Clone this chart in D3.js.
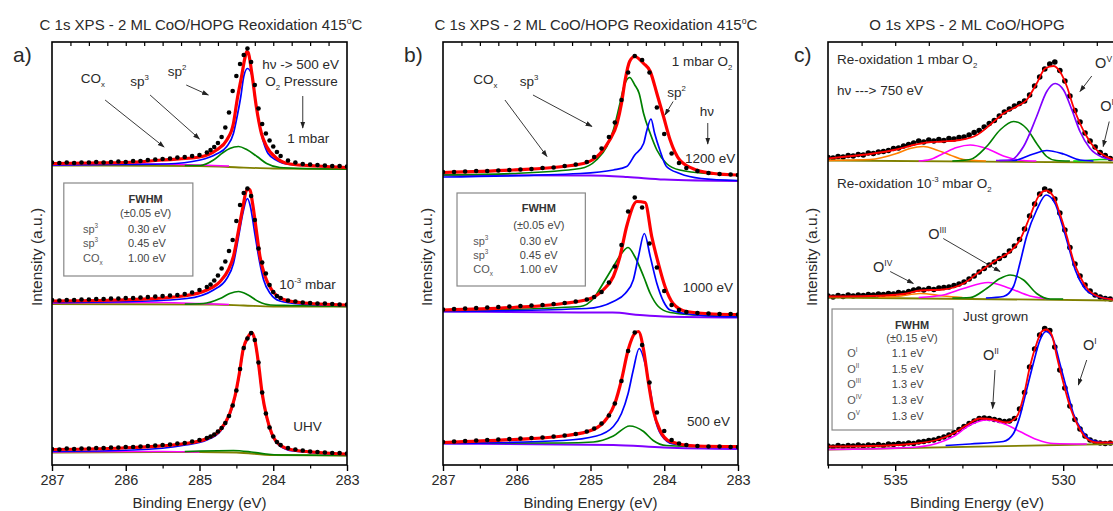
<!DOCTYPE html>
<html><head><meta charset="utf-8">
<script src="https://cdn.jsdelivr.net/npm/d3@7"></script>
<style>
body{margin:0;background:#fff;}
svg{display:block;font-family:"Liberation Sans",Arial,sans-serif;}
</style></head><body>
<svg id="chart" width="1113" height="511"></svg>
<script>
// ---------------- DATA (energies in eV, intensities in stacked a.u.) ----------------
// Panel a: C 1s, stacked spectra [1 mbar, 1e-3 mbar, UHV]
const aEnergy = [287.0,286.9,286.8,286.7,286.6,286.5,286.4,286.3,286.2,286.1,286.0,285.9,285.8,285.7,285.6,285.5,285.4,285.3,285.2,285.1,285.0,284.9,
 284.85,284.8,284.75,284.7,284.65,284.6,284.55,284.5,284.45,284.4,284.35,284.3,284.25,284.2,284.15,284.1,284.05,284.0,283.95,
 283.9,283.8,283.7,283.6,283.5,283.4,283.3,283.2,283.1,283.0];
const aDataTop = [60.5,60.4,60.5,60.4,60.5,60.5,60.6,60.5,60.6,60.7,60.6,60.8,60.8,61.0,61.1,61.2,61.3,61.5,61.6,61.8,62.0,62.5,
 63.0,63.6,64.4,65.6,67.5,70.5,74.8,77.8,80.2,82.0,83.3,80.6,76.0,71.3,68.2,66.3,64.9,63.7,62.6,
 61.8,60.9,60.5,60.2,60.1,60.0,59.9,59.8,59.8,59.7];
const aDataMid = [33.0,32.9,33.0,33.0,33.1,33.1,33.2,33.2,33.3,33.3,33.4,33.4,33.5,33.6,33.7,33.8,33.9,34.0,34.2,34.5,35.0,35.6,
 36.1,36.9,37.9,39.3,40.7,42.8,45.0,48.8,52.0,54.4,55.3,53.8,49.0,43.3,40.5,38.3,36.0,34.6,33.8,
 33.4,32.9,32.7,32.5,32.4,32.3,32.3,32.2,32.1,32.1];
const aDataBot = [3.2,3.1,3.3,3.2,3.3,3.3,3.4,3.4,3.5,3.5,3.6,3.6,3.7,3.8,3.9,4.0,4.1,4.3,4.4,4.7,5.0,5.4,
 5.7,6.1,6.7,7.4,8.4,9.8,11.9,14.9,19.2,23.4,25.3,26.4,25.0,20.5,14.5,10.3,7.5,5.7,4.6,
 4.0,3.4,3.1,2.9,2.7,2.6,2.5,2.4,2.4,2.3];
const aFit = [
 [[287,60.3],[286.5,60.4],[286,60.5],[285.5,61.0],[285,61.6],[284.77,63.0],[284.63,65.0],[284.54,68.3],[284.49,73.0],[284.43,77.7],[284.38,81.7],[284.36,82.7],[284.34,82.5],[284.29,78.3],[284.23,71.7],[284.16,66.3],[284.09,63.7],[283.95,61.3],[283.77,60.2],[283.41,59.8],[283,59.5]],
 [[287,32.8],[285.9,33.1],[285.22,33.8],[284.9,35.0],[284.72,36.7],[284.61,39.0],[284.54,41.7],[284.47,47.0],[284.41,51.7],[284.36,55.0],[284.32,55.1],[284.28,52.3],[284.23,47.0],[284.18,41.7],[284.11,37.7],[284.02,35.0],[283.86,33.1],[283.64,32.5],[283,32.0]],
 [[287,3.1],[285.9,3.5],[285.19,4.3],[284.9,5.3],[284.72,7.0],[284.59,10.3],[284.52,13.7],[284.46,18.3],[284.41,23.0],[284.34,25.7],[284.29,26.5],[284.25,25.0],[284.2,20.3],[284.15,14.3],[284.09,9.7],[284.02,6.3],[283.91,4.0],[283.73,3.0],[283,2.2]]
];
const aSp2 = [
 [[287,60.0],[286,60.1],[285.45,60.2],[284.99,61.0],[284.77,62.2],[284.63,63.7],[284.54,66.3],[284.49,69.7],[284.44,73.7],[284.4,77.7],[284.35,79.3],[284.29,78.0],[284.25,73.7],[284.2,69.0],[284.14,65.0],[284.07,62.3],[283.95,60.9],[283.77,60.1],[283,59.5]],
 [[287,32.5],[285.9,32.7],[285.17,33.3],[284.81,35.0],[284.63,37.3],[284.54,40.3],[284.47,45.7],[284.41,50.5],[284.35,53.3],[284.31,51.7],[284.25,46.3],[284.19,41.0],[284.13,37.0],[284.04,34.3],[283.91,32.8],[283.64,32.2],[283,31.9]],
 [[287,2.7],[285.9,3.0],[285.19,4.0],[284.9,5.0],[284.72,6.7],[284.59,10.0],[284.52,13.4],[284.46,18.0],[284.41,22.7],[284.34,25.4],[284.29,26.2],[284.25,24.8],[284.2,20.1],[284.15,14.1],[284.09,9.5],[284.02,6.1],[283.91,3.8],[283.73,2.8],[283,2.1]]
];
const aSp3 = [
 [[285.2,59.9],[284.99,59.9],[284.81,61.0],[284.68,62.5],[284.59,63.3],[284.47,63.7],[284.36,63.1],[284.22,61.7],[284.09,60.3],[283.91,59.5],[283.64,59.3],[283,59.2]],
 [[285.2,32.2],[284.95,32.3],[284.72,33.3],[284.59,34.3],[284.47,34.7],[284.34,34.0],[284.2,32.7],[284.04,32.0],[283.77,31.9],[283,31.7]],
 [[285.2,2.7],[284.99,2.8],[284.54,2.9],[284.3,2.6],[284.1,2.2],[283.9,2.0],[283,1.9]]
];
const aCOx = [
 [[287,60.0],[286.5,60.1],[286,60.2],[285.5,60.2],[285,60.0],[284.6,59.8]],
 [[287,32.4],[286,32.5],[285.5,32.5],[285,32.3],[284.6,32.1]],
 [[287,2.6],[286,2.7],[285.5,2.7],[285,2.6]]
];
const aBackground = [
 [[287,59.9],[285,59.8],[284.6,59.6],[284.0,59.3],[283,59.2]],
 [[287,32.2],[284.8,32.1],[284.4,31.9],[284.0,31.7],[283,31.7]],
 [[287,2.5],[285,2.6],[284.5,2.5],[284.0,2.0],[283,1.9]]
];

// Panel b: C 1s, stacked spectra [1200 eV, 1000 eV, 500 eV]
const bEnergy = [287.0,286.85,286.7,286.55,286.4,286.25,286.1,285.95,285.8,285.65,285.5,285.35,285.2,285.05,284.95,284.85,284.75,284.67,284.58,284.49,284.4,284.3,284.2,284.1,284.0,283.9,283.8,283.7,283.55,283.4,283.25,283.1,283.0];
const bDataTop = [58.6,58.6,58.7,58.8,58.8,58.9,59.0,59.1,59.2,59.4,59.5,59.8,60.1,60.6,61.6,63.3,65.6,68.5,73.0,78.5,81.8,81.0,78.5,71.5,66.2,62.3,60.4,59.4,58.8,58.4,58.2,58.1,58.0];
const bDataMid = [31.1,31.2,31.3,31.4,31.5,31.6,31.7,31.8,31.9,32.0,32.2,32.4,32.7,33.1,33.6,34.6,36.5,39.7,44.0,50.7,53.5,51.5,44.3,39.5,34.8,32.0,31.0,30.6,30.4,30.3,30.2,30.2,30.1];
const bDataBot = [4.6,4.7,4.8,4.9,5.0,5.1,5.2,5.3,5.4,5.5,5.7,5.9,6.2,6.7,7.3,8.3,9.9,12.3,16.8,22.8,26.5,24.0,16.5,10.5,6.8,5.0,4.3,4.0,3.8,3.7,3.7,3.6,3.6];
const bFit = [
 [[287,58.5],[286.05,59.0],[285.37,59.7],[285.05,60.5],[284.87,62.3],[284.74,65.0],[284.64,68.3],[284.58,72.3],[284.53,77.0],[284.47,80.7],[284.4,81.7],[284.28,80.3],[284.19,78.7],[284.1,74.3],[284.01,69.7],[283.92,65.0],[283.79,61.0],[283.56,59.0],[283.33,58.3],[283,58.0]],
 [[287,31.0],[286.05,31.5],[285.37,32.3],[285.0,33.3],[284.83,35.0],[284.69,37.7],[284.6,41.7],[284.51,47.7],[284.37,52.7],[284.26,52.5],[284.17,45.7],[284.08,40.3],[283.99,35.7],[283.88,32.3],[283.7,30.7],[283.33,30.2],[283,30.1]],
 [[287,4.5],[286.05,5.1],[285.37,5.8],[284.96,7.1],[284.78,9.3],[284.67,12.3],[284.58,17.0],[284.49,23.0],[284.4,26.3],[284.35,26.7],[284.28,23.0],[284.22,17.0],[284.15,11.0],[284.06,7.0],[283.92,4.7],[283.56,3.8],[283,3.7]]
];
const bSp2 = [
 [[287,57.6],[285.14,58.3],[284.69,59.0],[284.51,59.7],[284.4,62.0],[284.28,64.3],[284.24,66.7],[284.18,69.2],[284.13,66.3],[284.06,63.0],[283.97,59.7],[283.79,58.3],[283.5,57.3],[283,56.9]],
 [[287,30.7],[285.05,31.3],[284.69,32.7],[284.53,34.3],[284.42,37.0],[284.35,41.7],[284.27,46.3],[284.19,41.7],[284.1,36.3],[284.01,32.7],[283.92,31.0],[283.56,30.0],[283,29.6]],
 [[287,4.3],[285.37,4.9],[284.92,5.8],[284.69,7.7],[284.58,10.3],[284.49,14.3],[284.42,19.0],[284.34,23.3],[284.26,20.3],[284.19,15.0],[284.13,9.7],[284.04,6.0],[283.88,4.2],[283.33,3.7],[283,3.6]]
];
const bSp3 = [
 [[287,58.0],[286.05,58.3],[285.14,59.3],[284.92,61.0],[284.78,63.7],[284.69,67.0],[284.61,71.7],[284.54,76.0],[284.47,77.5],[284.4,76.0],[284.34,74.3],[284.28,70.3],[284.19,66.3],[284.1,63.0],[283.97,60.3],[283.79,59.0],[283.33,58.2],[283,57.9]],
 [[287,30.8],[285.14,31.7],[284.96,33.3],[284.83,36.3],[284.69,39.7],[284.58,42.3],[284.49,43.5],[284.4,41.7],[284.28,37.7],[284.19,34.3],[284.08,31.7],[283.92,30.5],[283.56,30.0],[283,29.7]],
 [[287,4.4],[285.37,4.4],[284.96,4.6],[284.69,5.8],[284.47,7.8],[284.28,6.7],[284.15,4.9],[283.97,3.9],[283.56,3.7],[283,3.6]]
];
const bBackground = [
 [[287,58.0],[285,57.9],[284.5,57.6],[284,57.1],[283,56.8]],
 [[287,30.7],[285.14,30.5],[284.7,30.5],[284.33,30.0],[284.01,29.7],[283,29.5]],
 [[287,4.3],[284.69,4.0],[284.01,3.5],[283,3.2]]
];

// Panel c: O 1s, stacked spectra [1 mbar, 1e-3 mbar, just grown]
const cEnergy = [537.00,536.85,536.70,536.55,536.40,536.25,536.10,535.95,535.80,535.65,535.50,535.35,535.20,535.05,534.90,534.75,534.60,534.45,534.30,534.15,
 534.00,533.85,533.70,533.55,533.40,533.25,533.10,532.95,532.80,532.65,532.50,532.35,532.20,532.05,531.90,531.75,531.60,531.45,531.30,531.15,
 531.00,530.85,530.70,530.55,530.40,530.25,530.10,529.95,529.80,529.65,529.50,529.35,529.20,529.05,528.90,528.75,528.60];
const cDataTop = [61.5,61.4,61.7,61.6,61.9,61.8,62.1,62.0,62.4,62.3,62.6,62.7,62.9,63.3,63.4,63.8,64.1,64.4,64.8,64.6,
 65.0,64.8,65.1,64.9,65.3,65.2,65.5,65.6,66.0,66.5,66.9,67.6,68.3,68.9,69.8,70.6,71.2,71.8,72.3,72.8,
 74.0,75.8,77.6,79.2,80.2,80.6,78.9,76.8,73.8,70.9,68.6,66.4,64.8,63.6,62.5,61.9,61.3];
const cDataMid = [33.8,33.6,33.9,33.7,34.0,33.8,34.0,33.9,34.1,34.0,34.2,34.1,34.3,34.2,34.5,34.4,34.7,35.0,35.2,35.0,
 35.3,35.1,35.4,35.5,35.6,35.9,36.2,36.6,37.2,37.8,38.6,39.3,40.0,40.6,41.3,41.9,42.8,43.8,45.1,47.2,
 49.8,52.2,54.2,55.2,54.8,53.2,50.4,47.0,43.5,40.2,37.8,36.0,34.8,34.0,33.6,33.3,33.2];
const cDataBot = [3.8,3.6,3.9,3.7,3.9,3.8,4.0,3.8,4.0,3.9,4.1,3.9,4.2,4.1,4.3,4.2,4.4,4.3,4.6,4.7,
 4.9,5.0,5.3,5.6,6.0,6.5,7.1,7.7,8.3,8.8,9.3,9.4,9.3,9.1,8.9,8.7,8.8,9.3,11.2,14.5,
 19.6,23.2,26.0,27.3,26.9,23.6,19.0,15.4,11.8,9.1,7.2,5.8,5.0,4.6,4.4,4.3,4.4];
const cFit = [
 [[537,61.3],[536.44,61.7],[535.75,62.2],[534.96,63.1],[534.46,64.0],[534.06,64.5],[533.57,64.7],[533.07,65.0],[532.57,66.0],[532.18,68.0],[531.78,70.3],[531.38,71.7],[531.09,73.0],[530.79,76.3],[530.54,79.3],[530.29,79.8],[530.1,78.7],[529.89,75.7],[529.7,71.7],[529.5,68.3],[529.3,65.7],[529.05,63.3],[528.81,62.0],[528.51,61.1]],
 [[537,33.7],[535.75,33.8],[534.76,34.2],[534.26,34.9],[533.57,35.1],[532.97,36.3],[532.48,38.7],[531.98,41.0],[531.58,42.7],[531.29,45.0],[530.99,49.7],[530.74,53.7],[530.51,54.9],[530.29,53.7],[530.1,50.3],[529.89,45.7],[529.7,41.0],[529.5,37.7],[529.25,35.0],[528.95,33.7],[528.51,33.1]],
 [[537,3.7],[535.75,3.8],[534.56,4.2],[533.77,5.0],[533.27,6.3],[532.87,8.0],[532.48,9.3],[532.08,9.1],[531.68,8.5],[531.38,9.7],[531.18,13.7],[530.99,19.7],[530.79,24.3],[530.64,26.7],[530.51,27.1],[530.34,26.0],[530.19,21.7],[529.99,16.3],[529.8,11.7],[529.55,7.7],[529.3,5.3],[529.0,4.5],[528.51,4.5]]
];
const cOrange = [
 [[537,60.9],[535.75,61.1],[534.96,62.3],[534.56,63.3],[534.16,63.7],[533.77,63.0],[533.37,62.0],[532.97,61.1],[532.3,60.8]],
 [[535.5,33.6],[534.96,33.7],[534.26,34.3],[533.57,33.8],[533.0,33.5]],
 null
];
const cMagenta = [
 [[534.3,60.8],[533.96,61.1],[533.57,62.3],[533.17,63.5],[532.77,64.0],[532.28,63.3],[531.78,61.8],[531.18,60.9],[530.8,60.8]],
 [[534.3,33.5],[533.57,34.0],[532.97,35.3],[532.23,36.5],[531.58,35.3],[530.99,33.8],[530.4,33.2]],
 [[537,3.1],[534.56,3.5],[533.77,4.3],[533.27,5.7],[532.77,8.0],[532.28,9.0],[531.78,8.3],[531.29,6.7],[530.79,5.1],[530.29,4.3],[529.3,4.2]]
];
const cGreen = [
 [[533.3,60.8],[532.77,61.1],[532.28,63.7],[531.88,67.0],[531.48,68.7],[531.09,67.3],[530.79,64.3],[530.49,61.7],[530.2,60.9],[529.8,60.8]],
 [[533.3,33.4],[532.77,33.5],[532.28,35.3],[531.88,37.3],[531.58,38.0],[531.18,37.0],[530.79,34.3],[530.4,33.2],[530.0,33.2]],
 null
];
const cPurple = [
 [[532.0,60.9],[531.58,61.0],[531.18,63.7],[530.79,69.7],[530.49,74.7],[530.24,76.3],[529.99,75.0],[529.74,71.0],[529.5,66.7],[529.2,63.3],[528.81,61.5],[528.5,61.0]],
 null, null
];
const cBlue = [
 [[531.9,60.9],[531.48,60.9],[530.89,62.2],[530.49,62.9],[529.99,62.2],[529.5,61.0],[529.1,60.8]],
 [[532.3,33.4],[531.78,33.7],[531.48,35.7],[531.29,40.3],[531.09,45.7],[530.79,51.0],[530.51,54.0],[530.24,52.3],[530.04,48.3],[529.84,43.7],[529.64,39.0],[529.4,35.7],[529.1,34.0],[528.51,33.1]],
 [[533.5,3.9],[532.77,4.2],[531.78,4.7],[531.48,6.3],[531.29,9.7],[531.09,15.0],[530.89,20.3],[530.69,25.0],[530.51,26.7],[530.29,25.0],[530.1,20.3],[529.89,15.0],[529.7,10.3],[529.45,7.0],[529.2,5.1],[528.8,4.5],[528.5,4.4]]
];
const cLime = [
 [[529.7,60.8],[529.3,60.9],[528.9,61.1],[528.5,61.1]],
 null, null
];
const cBackground = [
 [[537,60.9],[528.5,60.5]],
 [[537,33.5],[528.5,32.9]],
 [[537,3.1],[528.5,4.2]]
];

const cTicksMajor = [535, 530];
const cTicksMinor = [537, 536, 534, 533, 532, 531, 529];
const abTicksMajor = [287, 286, 285, 284, 283];
const abTicksMinor = [286.5, 285.5, 284.5, 283.5];
const abTicksTop = [286.75,286.5,286.25,286,285.75,285.5,285.25,285,284.75,284.5,284.25,284,283.75,283.5,283.25];
const cTicksTop = [536,535,534,533,532,531,530,529];

// ---------------- DRAWING ----------------
const svg = d3.select('#chart');
const defs = svg.append('defs');
defs.append('marker').attr('id','arr').attr('viewBox','0 0 10 10').attr('refX',9).attr('refY',5)
  .attr('markerWidth',7).attr('markerHeight',7).attr('markerUnits','userSpaceOnUse').attr('orient','auto')
  .append('path').attr('d','M0,1.5 L10,5 L0,8.5 Z').attr('fill','#222');

const TOP = 42, BOTTOM = 465;
const Y = d3.scaleLinear().domain([0, 84.6]).range([BOTTOM, TOP]);
const textColor = '#2a2a2a';

function rich(g, x, y, str, fs, opts) {
  opts = opts || {};
  const t = g.append('text').attr('x', x).attr('y', y).attr('font-size', fs)
    .attr('fill', opts.color || textColor).attr('text-anchor', opts.anchor || 'start');
  if (opts.weight) t.attr('font-weight', opts.weight);
  const parts = str.split(/(\^\{[^}]*\}|_\{[^}]*\})/).filter(s => s.length);
  let shift = 0;
  parts.forEach(p => {
    let type = 'n', s = p;
    if (p.startsWith('^{')) { type = 'sup'; s = p.slice(2, -1); }
    else if (p.startsWith('_{')) { type = 'sub'; s = p.slice(2, -1); }
    const target = type === 'sup' ? -0.42 * fs : type === 'sub' ? 0.28 * fs : 0;
    const ts = t.append('tspan').attr('dy', target - shift).text(s);
    if (type !== 'n') ts.attr('font-size', fs * 0.58);
    shift = target;
  });
  return t;
}

function arrow(g, x, p0, p1) {
  g.append('line').attr('x1', x(p0[0])).attr('y1', Y(p0[1])).attr('x2', x(p1[0])).attr('y2', Y(p1[1]))
    .attr('stroke', '#222').attr('stroke-width', 0.9).attr('marker-end', 'url(#arr)');
}

function panel(cfg) {
  const x = cfg.x;
  const [x0, x1] = x.range();
  const g = svg.append('g');
  defs.append('clipPath').attr('id', 'clip' + cfg.id).append('rect')
    .attr('x', x0).attr('y', TOP).attr('width', x1 - x0).attr('height', BOTTOM - TOP);
  const plot = g.append('g').attr('clip-path', `url(#clip${cfg.id})`);
  const line = d3.line().x(d => x(d[0])).y(d => Y(d[1])).curve(d3.curveMonotoneX);

  const drawCurves = () => cfg.curves.forEach(c => {
    c.data.forEach(s => {
      if (!s) return;
      plot.append('path').attr('d', line(s)).attr('fill', 'none')
        .attr('stroke', c.color).attr('stroke-width', c.width).attr('stroke-linejoin', 'round');
    });
  });
  const drawDots = () => cfg.dataSets.forEach(vals => {
    plot.append('g').selectAll('circle').data(vals.map((v, i) => [cfg.energy[i], v])).join('circle')
      .attr('cx', d => x(d[0])).attr('cy', d => Y(d[1])).attr('r', cfg.r).attr('fill', '#000');
  });
  if (cfg.dotsFirst) { drawDots(); drawCurves(); } else { drawCurves(); drawDots(); }

  // frame
  g.append('rect').attr('x', x0).attr('y', TOP).attr('width', x1 - x0).attr('height', BOTTOM - TOP)
    .attr('fill', 'none').attr('stroke', '#000').attr('stroke-width', 1.6);

  // bottom axis
  const ax = g.append('g').attr('transform', `translate(0,${BOTTOM})`)
    .call(d3.axisBottom(x).tickValues(cfg.major).tickSize(6).tickPadding(4).tickFormat(d3.format('d')));
  ax.select('.domain').remove();
  ax.selectAll('line').attr('stroke-width', 1.4);
  ax.selectAll('text').attr('font-size', 14.5).attr('fill', textColor).attr('font-family', '"Liberation Sans",Arial,sans-serif');
  const axm = g.append('g').attr('transform', `translate(0,${BOTTOM})`)
    .call(d3.axisBottom(x).tickValues(cfg.minor).tickSize(3.5).tickFormat(''));
  axm.select('.domain').remove();
  axm.selectAll('line').attr('stroke-width', 1.2);
  // top ticks (inward)
  const axt = g.append('g').attr('transform', `translate(0,${TOP})`)
    .call(d3.axisBottom(x).tickValues(cfg.top).tickSize(4).tickFormat(''));
  axt.select('.domain').remove();
  axt.selectAll('line').attr('stroke-width', 1.2);

  // labels
  g.append('text').attr('x', (x0 + Math.min(x1, cfg.labelRight || x1)) / 2).attr('y', 508).attr('text-anchor', 'middle')
    .attr('font-size', 15).attr('fill', textColor).text('Binding Energy (eV)');
  g.append('text').attr('transform', `translate(${cfg.ylabX},257) rotate(-90)`).attr('text-anchor', 'middle')
    .attr('font-size', 15.5).attr('fill', textColor).text('Intensity (a.u.)');
  g.append('text').attr('x', cfg.letterX).attr('y', 62).attr('font-size', 21).attr('fill', textColor).text(cfg.id + ')');
  rich(g, cfg.titleX, 30, cfg.title, 15, { anchor: 'middle' });
  return g;
}

// ---------- Panel a ----------
const xa = d3.scaleLinear().domain([287, 283]).range([52, 347]);
const ga = panel({
  id: 'a', x: xa, energy: aEnergy, dataSets: [aDataTop, aDataMid, aDataBot], r: 2.3,
  curves: [
    { data: aBackground, color: '#808000', width: 1.8 },
    { data: aCOx, color: '#ff00ff', width: 1.5 },
    { data: aSp3, color: '#008000', width: 1.7 },
    { data: aSp2, color: '#0000ff', width: 1.7 },
    { data: aFit, color: '#ff0000', width: 3.2 }
  ],
  major: abTicksMajor, minor: abTicksMinor, top: abTicksTop,
  ylabX: 42, letterX: 13, titleX: 201,
  title: 'C 1s XPS - 2 ML CoO/HOPG Reoxidation 415^{o}C'
});
rich(ga, xa(284.15), Y(79.2), 'hν -> 500 eV', 13.5);
rich(ga, xa(284.11), Y(75.8), 'O_{2} Pressure', 13.5);
arrow(ga, xa, [283.6, 73.8], [283.6, 67.4]);
rich(ga, xa(283.81), Y(64.4), '1 mbar', 13.5);
rich(ga, xa(285.43), Y(77.8), 'sp^{2}', 13.5);
arrow(ga, xa, [285.18, 76], [284.88, 74]);
rich(ga, xa(285.94), Y(75.8), 'sp^{3}', 13.5);
arrow(ga, xa, [285.67, 74], [285.0, 65.2]);
rich(ga, xa(286.61), Y(76.4), 'CO_{x}', 13.5);
arrow(ga, xa, [286.28, 73], [285.48, 63.6]);
rich(ga, xa(283.92), Y(35.2), '10^{-3} mbar', 13.5);
rich(ga, xa(283.73), Y(6.8), 'UHV', 13.5);

function fwhmBox(g, x, box, title, err, labels, values, rows, cfg) {
  g.append('rect').attr('x', x(box[0])).attr('y', Y(box[1])).attr('width', x(box[2]) - x(box[0]))
    .attr('height', Y(box[3]) - Y(box[1])).attr('fill', '#fff').attr('stroke', '#888').attr('stroke-width', 1.2);
  rich(g, x(cfg.cx), Y(cfg.t1), title, cfg.fs, { anchor: 'middle', weight: 'bold', color: '#333' });
  rich(g, x(cfg.cx), Y(cfg.t2), err, cfg.fs, { anchor: 'middle', color: '#444' });
  labels.forEach((l, i) => {
    rich(g, x(cfg.lx), Y(rows[i]), l, cfg.fs, { color: '#555' });
    rich(g, x(cfg.vx), Y(rows[i]), values[i], cfg.fs, { color: '#444' });
  });
}
fwhmBox(ga, xa, [286.84, 56.4, 285.09, 37.8], 'FWHM', '(±0.05 eV)',
  ['sp^{3}', 'sp^{3}', 'CO_{x}'], ['0.30 eV', '0.45 eV', '1.00 eV'], [46.4, 43.6, 40.6],
  { cx: 285.73, t1: 52.4, t2: 49.6, lx: 286.58, vx: 285.97, fs: 11 });

// ---------- Panel b ----------
const xb = d3.scaleLinear().domain([287, 283]).range([443, 738]);
const gb = panel({
  id: 'b', x: xb, energy: bEnergy, dataSets: [bDataTop, bDataMid, bDataBot], r: 2.3,
  curves: [
    { data: bBackground, color: '#8000ff', width: 2 },
    { data: bSp3, color: '#008000', width: 1.7 },
    { data: bSp2, color: '#0000ff', width: 1.7 },
    { data: bFit, color: '#ff0000', width: 3.2 }
  ],
  major: abTicksMajor, minor: abTicksMinor, top: abTicksTop,
  ylabX: 432, letterX: 404, titleX: 596,
  title: 'C 1s XPS - 2 ML CoO/HOPG Reoxidation 415^{o}C'
});
rich(gb, xb(283.9), Y(79.8), '1 mbar O_{2}', 13.5);
rich(gb, xb(283.96), Y(73.6), 'sp^{2}', 13.5);
arrow(gb, xb, [283.88, 72.7], [283.99, 70.0]);
rich(gb, xb(283.52), Y(69.8), 'hν', 13.5);
arrow(gb, xb, [283.41, 68.4], [283.41, 64.2]);
rich(gb, xb(283.72), Y(60.4), '1200 eV', 13.5);
rich(gb, xb(285.96), Y(75.8), 'sp^{3}', 13.5);
arrow(gb, xb, [285.78, 74], [284.98, 67.7]);
rich(gb, xb(286.59), Y(76.2), 'CO_{x}', 13.5);
arrow(gb, xb, [286.16, 73], [285.59, 61.7]);
rich(gb, xb(283.75), Y(34.6), '1000 eV', 13.5);
rich(gb, xb(283.69), Y(7.8), '500 eV', 13.5);
fwhmBox(gb, xb, [286.81, 54.4, 285.07, 35.8], 'FWHM', '(±0.05 eV)',
  ['sp^{3}', 'sp^{3}', 'CO_{x}'], ['0.30 eV', '0.45 eV', '1.00 eV'], [44.0, 41.2, 38.4],
  { cx: 285.7, t1: 50.6, t2: 47.2, lx: 286.59, vx: 285.96, fs: 11 });

// ---------- Panel c ----------
const xc = d3.scaleLinear().domain([537, 528]).range([828, 1130.4]);
const gc = panel({
  id: 'c', x: xc, energy: cEnergy, dataSets: [cDataTop, cDataMid, cDataBot], r: 2.8, dotsFirst: true,
  curves: [
    { data: cBackground, color: '#808000', width: 1.8 },
    { data: cOrange, color: '#ff8000', width: 1.6 },
    { data: cMagenta, color: '#ff00ff', width: 1.6 },
    { data: cGreen, color: '#008000', width: 1.6 },
    { data: cLime, color: '#00e000', width: 1.6 },
    { data: cBlue, color: '#0000ff', width: 1.7 },
    { data: cPurple, color: '#8000ff', width: 1.7 },
    { data: cFit, color: '#ff0000', width: 1.8 }
  ],
  major: cTicksMajor, minor: cTicksMinor, top: cTicksTop,
  ylabX: 817, letterX: 794, titleX: 967, labelRight: 1126,
  title: 'O 1s XPS - 2 ML CoO/HOPG'
});
rich(gc, xc(536.73), Y(80.2), 'Re-oxidation 1 mbar O_{2}', 13.5);
rich(gc, xc(536.73), Y(74.0), 'hν ---> 750 eV', 13.5);
rich(gc, xc(529.05), Y(79.4), 'O^{V}', 14.5);
arrow(gc, xc, [529.15, 77.8], [529.5, 74.7]);
rich(gc, xc(528.9), Y(70.8), 'O^{I}', 14.5);
arrow(gc, xc, [528.63, 68.7], [528.81, 63.7]);
rich(gc, xc(536.73), Y(55.4), 'Re-oxidation 10^{-3} mbar O_{2}', 13.5);
rich(gc, xc(535.66), Y(38.6), 'O^{IV}', 14.5);
arrow(gc, xc, [535.15, 38.7], [534.46, 36.3]);
rich(gc, xc(534.02), Y(45.2), 'O^{III}', 14.5);
arrow(gc, xc, [533.57, 45.3], [531.88, 38.7]);
rich(gc, xc(532.98), Y(28.8), 'Just grown', 13.5);
rich(gc, xc(532.39), Y(21.0), 'O^{II}', 14.5);
arrow(gc, xc, [532.03, 19.0], [532.1, 11.3]);
rich(gc, xc(529.41), Y(23.0), 'O^{I}', 14.5);
arrow(gc, xc, [529.3, 21.0], [529.55, 16.0]);
fwhmBox(gc, xc, [536.88, 31.2, 533.28, 7.0], 'FWHM', '(±0.15 eV)',
  ['O^{I}', 'O^{II}', 'O^{III}', 'O^{IV}', 'O^{V}'], ['1.1 eV', '1.5 eV', '1.3 eV', '1.3 eV', ' 1.3 eV'],
  [21.6, 18.4, 15.4, 12.2, 9.0],
  { cx: 534.5, t1: 27.2, t2: 24.6, lx: 536.43, vx: 535.1, fs: 11 });
</script>
</body></html>
